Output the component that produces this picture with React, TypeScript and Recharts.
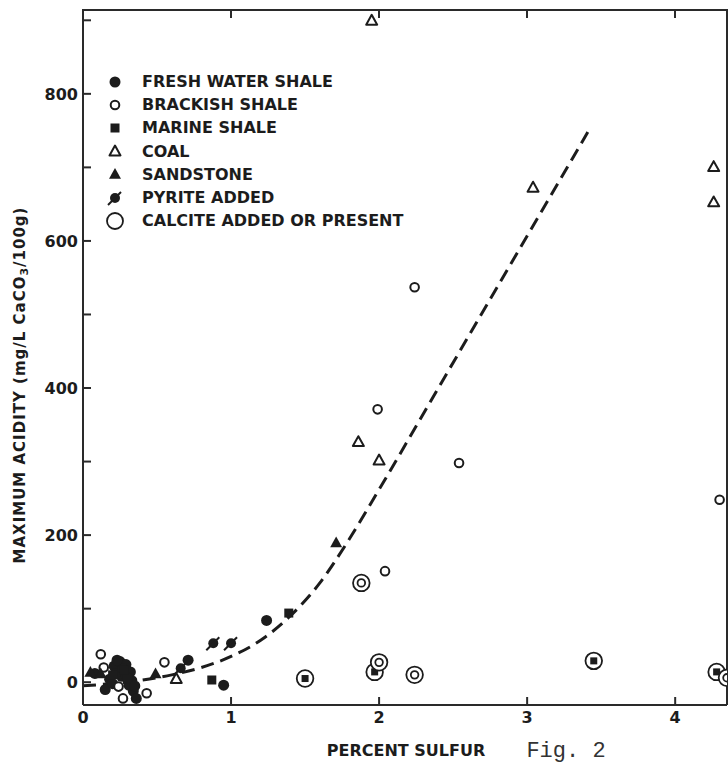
import React from 'react'
import { ComposedChart, Scatter, Line, XAxis, YAxis, Legend } from 'recharts'

// values (percent sulfur, acidity mg/L CaCO3/100g)
const freshWater = [
  { x: 0.08, y: 12 }, { x: 0.15, y: -10 }, { x: 0.21, y: 22 }, { x: 0.25, y: 28 },
  { x: 0.29, y: 24 }, { x: 0.32, y: 14 }, { x: 0.33, y: 2 }, { x: 0.34, y: -12 },
  { x: 0.36, y: -22 }, { x: 0.26, y: 8 }, { x: 0.18, y: 4 }, { x: 0.31, y: -4 },
  { x: 0.22, y: 12 }, { x: 0.27, y: 18 }, { x: 0.3, y: 6 }, { x: 0.35, y: -5 },
  { x: 0.23, y: 30 }, { x: 0.2, y: -2 },
  { x: 0.71, y: 30 }, { x: 0.95, y: -4 }, { x: 1.24, y: 84 },
]
const brackish = [
  { x: 0.12, y: 38 }, { x: 0.43, y: -15 }, { x: 0.27, y: -22 }, { x: 0.14, y: 20 },
  { x: 0.24, y: -6 }, { x: 0.55, y: 27 }, { x: 2.04, y: 151 }, { x: 2.54, y: 298 },
  { x: 1.99, y: 371 }, { x: 2.24, y: 537 }, { x: 4.3, y: 248 },
]
const marine = [
  { x: 0.2, y: 10 }, { x: 0.28, y: 16 }, { x: 0.87, y: 3 }, { x: 1.39, y: 94 },
]
const coal = [
  { x: 0.63, y: 5 }, { x: 1.86, y: 327 }, { x: 2.0, y: 302 }, { x: 3.04, y: 673 },
  { x: 1.95, y: 900 }, { x: 4.26, y: 701 }, { x: 4.26, y: 653 },
]
const sandstone = [
  { x: 0.05, y: 14 }, { x: 0.12, y: 12 }, { x: 0.49, y: 12 }, { x: 1.71, y: 190 },
]
const pyrite = [
  { x: 0.66, y: 19 }, { x: 0.88, y: 53 }, { x: 1.0, y: 53 },
]
const calciteMarine = [
  { x: 1.5, y: 5 }, { x: 1.97, y: 14 }, { x: 3.45, y: 29 }, { x: 4.28, y: 14 },
]
const calciteBrackish = [
  { x: 1.88, y: 135 }, { x: 2.0, y: 27 }, { x: 2.24, y: 10 }, { x: 4.35, y: 6 },
]
const trend = [
  { x: 0, y: -5 }, { x: 0.4, y: 3 }, { x: 0.6, y: 10 }, { x: 0.8, y: 20 },
  { x: 1.0, y: 35 }, { x: 1.2, y: 57 }, { x: 1.4, y: 90 }, { x: 1.6, y: 135 },
  { x: 1.8, y: 195 }, { x: 2.0, y: 262 }, { x: 2.4, y: 400 }, { x: 3.41, y: 748 },
]

const xTicks = [0, 1, 2, 3, 4]
const topTicks = [1, 2, 3, 4]
const yTicks = [0, 100, 200, 300, 400, 500, 600, 700, 800, 900]
const yLabels = [0, 200, 400, 600, 800]
const X_MAX = 4.35
const Y_MIN = -31
const Y_MAX = 914

const legendItems = [
  { kind: 'fresh', label: 'FRESH WATER SHALE' },
  { kind: 'brackish', label: 'BRACKISH SHALE' },
  { kind: 'marine', label: 'MARINE SHALE' },
  { kind: 'coal', label: 'COAL' },
  { kind: 'sand', label: 'SANDSTONE' },
  { kind: 'pyrite', label: 'PYRITE ADDED' },
  { kind: 'calcite', label: 'CALCITE ADDED OR PRESENT' },
]

const INK = '#1c1c1c'
const FONT = '"DejaVu Sans", sans-serif'

// plot box inside the 728x763 chart
const PLOT_LEFT = 83
const PLOT_TOP = 10
const PLOT_W = 644

const tri = (cx: number, cy: number, s: number) =>
  `${cx},${cy - s} ${cx + s},${cy + s * 0.8} ${cx - s},${cy + s * 0.8}`

function Mark({ kind, cx, cy }: { kind: string; cx: number; cy: number }) {
  switch (kind) {
    case 'fresh':
      return <circle cx={cx} cy={cy} r={5.5} fill={INK} />
    case 'brackish':
      return <circle cx={cx} cy={cy} r={4.3} fill="#fff" stroke={INK} strokeWidth={2} />
    case 'marine':
      return <rect x={cx - 4.5} y={cy - 4.5} width={9} height={9} fill={INK} />
    case 'coal':
      return <polygon points={tri(cx, cy, 5.5)} fill="#fff" stroke={INK} strokeWidth={2} strokeLinejoin="round" />
    case 'sand':
      return <polygon points={tri(cx, cy, 6)} fill={INK} />
    case 'pyrite':
      return (
        <g>
          <circle cx={cx} cy={cy} r={5} fill={INK} />
          <line x1={cx - 7} y1={cy + 7} x2={cx + 6} y2={cy - 6} stroke={INK} strokeWidth={2} />
        </g>
      )
    case 'calcite':
      return <circle cx={cx} cy={cy} r={8} fill="none" stroke={INK} strokeWidth={1.8} />
    case 'calciteMarine':
      return (
        <g>
          <circle cx={cx} cy={cy} r={8.3} fill="#fff" stroke={INK} strokeWidth={1.8} />
          <rect x={cx - 3.5} y={cy - 3.5} width={7} height={7} fill={INK} />
        </g>
      )
    case 'calciteBrackish':
      return (
        <g>
          <circle cx={cx} cy={cy} r={8.3} fill="#fff" stroke={INK} strokeWidth={1.8} />
          <circle cx={cx} cy={cy} r={3.8} fill="#fff" stroke={INK} strokeWidth={1.8} />
        </g>
      )
    default:
      return null
  }
}

const shapeOf = (kind: string) => (p: any) => <Mark kind={kind} cx={p.cx} cy={p.cy} />

function LegendBox() {
  return (
    <div style={{ fontFamily: FONT, fontWeight: 700, fontSize: 16, color: INK }}>
      {legendItems.map((it) => (
        <div key={it.kind} style={{ display: 'flex', alignItems: 'center', height: 23.2 }}>
          <svg width={22} height={22} style={{ flex: 'none' }}>
            <Mark kind={it.kind} cx={11} cy={11} />
          </svg>
          <span style={{ marginLeft: 16, whiteSpace: 'nowrap' }}>{it.label}</span>
        </div>
      ))}
    </div>
  )
}

function YTitle() {
  return (
    <text transform="translate(20,385) rotate(-90)" textAnchor="middle" dominantBaseline="central"
      fontFamily={FONT} fontWeight={700} fontSize={15} fill={INK} letterSpacing={1}>
      MAXIMUM ACIDITY (mg/L CaCO<tspan fontSize={11} dy={4}>3</tspan><tspan dy={-4}>/100g)</tspan>
    </text>
  )
}

function XTitle() {
  return (
    <g>
      <text x={406} y={756} textAnchor="middle" fontFamily={FONT} fontWeight={700} fontSize={16} fill={INK}>
        PERCENT SULFUR
      </text>
      <text x={566} y={757} textAnchor="middle" fontFamily='"Liberation Mono", monospace' fontSize={22} fill="#333">
        Fig. 2
      </text>
    </g>
  )
}

// top edge of the frame with its inward ticks (kept as a plain overlay)
function TopFrame() {
  return (
    <div style={{ position: 'absolute', left: 0, top: 0, width: 728, height: 30, zIndex: 5, pointerEvents: 'none' }}>
      <div style={{ position: 'absolute', left: PLOT_LEFT - 1, top: PLOT_TOP - 1, width: PLOT_W + 2, height: 2, background: '#2a2a2a' }} />
      {topTicks.map((t) => (
        <div key={t} style={{ position: 'absolute', left: PLOT_LEFT + (t / X_MAX) * PLOT_W - 1, top: PLOT_TOP, width: 2, height: 8, background: '#2a2a2a' }} />
      ))}
    </div>
  )
}

const tickStyle = { fill: INK, fontSize: 16, fontWeight: 700, fontFamily: FONT }
const axisStroke = { stroke: '#2a2a2a', strokeWidth: 2 }

export default function App() {
  return (
    <div style={{ position: 'absolute', left: 0, top: 0, width: 728, height: 763, background: '#fff' }}>
      <ComposedChart width={728} height={763} margin={{ top: PLOT_TOP, right: 0, bottom: 0, left: 0 }}>
        <XAxis dataKey="x" type="number" domain={[0, X_MAX]} allowDataOverflow ticks={xTicks} interval={0}
          height={58} tickSize={-8} tickMargin={15} tick={tickStyle} axisLine={axisStroke} tickLine={axisStroke}
          label={XTitle} />
        <YAxis dataKey="y" type="number" domain={[Y_MIN, Y_MAX]} allowDataOverflow ticks={yTicks} interval={0}
          width={PLOT_LEFT} tickSize={-8} tickMargin={13} tick={tickStyle} axisLine={axisStroke} tickLine={axisStroke}
          tickFormatter={(v: number) => (yLabels.includes(v) ? String(v) : '')} label={YTitle} />
        <YAxis yAxisId="right" orientation="right" type="number" domain={[Y_MIN, Y_MAX]} allowDataOverflow
          ticks={yTicks} interval={0} width={1} tickSize={-8} tick={false} axisLine={axisStroke} tickLine={axisStroke} />
        <Legend layout="vertical" align="center" verticalAlign="middle" content={() => <LegendBox />}
          wrapperStyle={{ left: 104, top: 70, width: 'auto', height: 'auto' }} />
        <Line data={trend} dataKey="y" type="monotone" dot={false} stroke={INK} strokeWidth={3}
          strokeDasharray="13 7" isAnimationActive={false} legendType="none" />
        <Scatter data={freshWater} dataKey="y" shape={shapeOf('fresh')} isAnimationActive={false} />
        <Scatter data={brackish} dataKey="y" shape={shapeOf('brackish')} isAnimationActive={false} />
        <Scatter data={marine} dataKey="y" shape={shapeOf('marine')} isAnimationActive={false} />
        <Scatter data={coal} dataKey="y" shape={shapeOf('coal')} isAnimationActive={false} />
        <Scatter data={sandstone} dataKey="y" shape={shapeOf('sand')} isAnimationActive={false} />
        <Scatter data={pyrite} dataKey="y" shape={shapeOf('pyrite')} isAnimationActive={false} />
        <Scatter data={calciteMarine} dataKey="y" shape={shapeOf('calciteMarine')} isAnimationActive={false} />
        <Scatter data={calciteBrackish} dataKey="y" shape={shapeOf('calciteBrackish')} isAnimationActive={false} />
      </ComposedChart>
      <TopFrame />
    </div>
  )
}
